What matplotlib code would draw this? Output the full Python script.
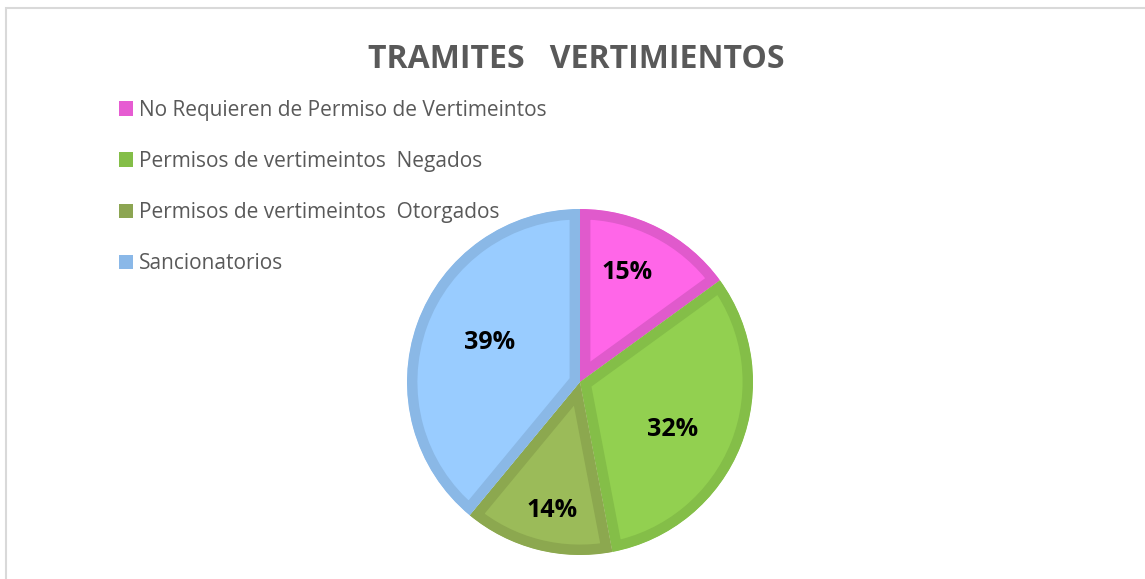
import numpy as np
import matplotlib
matplotlib.use("Agg")
import matplotlib.pyplot as plt
from matplotlib.patches import Patch, Rectangle

# datos
categorias = [
    "No Requieren de Permiso de Vertimeintos",
    "Permisos de vertimeintos  Negados",
    "Permisos de vertimeintos  Otorgados",
    "Sancionatorios",
]
porcentajes = [15, 32, 14, 39]
titulo = "TRAMITES   VERTIMIENTOS"

# colores (relleno / borde)
relleno = ["#FF66E8", "#92D050", "#9BBB59", "#99CCFF"]
borde = ["#E05ACC", "#84BE48", "#8CA84F", "#8AB8E6"]
leyenda_col = ["#E65CD2", "#84BE48", "#8CA552", "#8AB8E8"]
# posicion de cada etiqueta: distancia (fraccion del radio) y giro en grados
dist_etq = [0.69, 0.60, 0.76, 0.57]
giro_etq = [4, -5.5, 2, -4]

plt.rcParams['font.family'] = ['Open Sans', 'DejaVu Sans']

fig = plt.figure(figsize=(11.45, 5.79), dpi=100)

# marco del grafico
fig.patches.append(Rectangle((6 / 1145, -0.1), 1.2, (579 - 8) / 579 + 0.1,
                             transform=fig.transFigure, fill=False,
                             edgecolor="#D9D9D9", linewidth=1.5))

ax = fig.add_axes([(580 - 173) / 1145, (579 - 555) / 579, 346 / 1145, 346 / 579])
wedges, _ = ax.pie(porcentajes, colors=relleno, startangle=90, counterclock=False,
                   radius=1.0, wedgeprops=dict(linewidth=15, edgecolor="none"))
for w, c in zip(wedges, borde):
    w.set_edgecolor(c)
    w.set_clip_path(w)
    w.set_clip_on(True)

# etiquetas de porcentaje
total = sum(porcentajes)
acum = 0
for p, d, g in zip(porcentajes, dist_etq, giro_etq):
    ang = np.deg2rad(90 - (acum + p / 2) / total * 360 + g)
    acum += p
    ax.text(d * np.cos(ang), d * np.sin(ang), f"{p}%", ha="center", va="center",
            fontsize=18, fontweight="bold", color="#000000")
ax.set_xlim(-1, 1)
ax.set_ylim(-1, 1)
ax.set_aspect("equal")
ax.axis("off")

fig.text(576 / 1145, 1 - 60 / 579, titulo, ha="center", va="center",
         fontsize=23, fontweight="bold", color="#595959")

handles = [Patch(facecolor=c, edgecolor="none") for c in leyenda_col]
leg = fig.legend(handles, categorias, loc="upper left",
                 bbox_to_anchor=(100 / 1145, 1 - 81 / 579), frameon=False,
                 fontsize=15, labelcolor="#595959", handlelength=0.7,
                 handleheight=0.7, handletextpad=0.25, labelspacing=1.45)

fig.savefig("out.png", dpi=100, facecolor="white")
